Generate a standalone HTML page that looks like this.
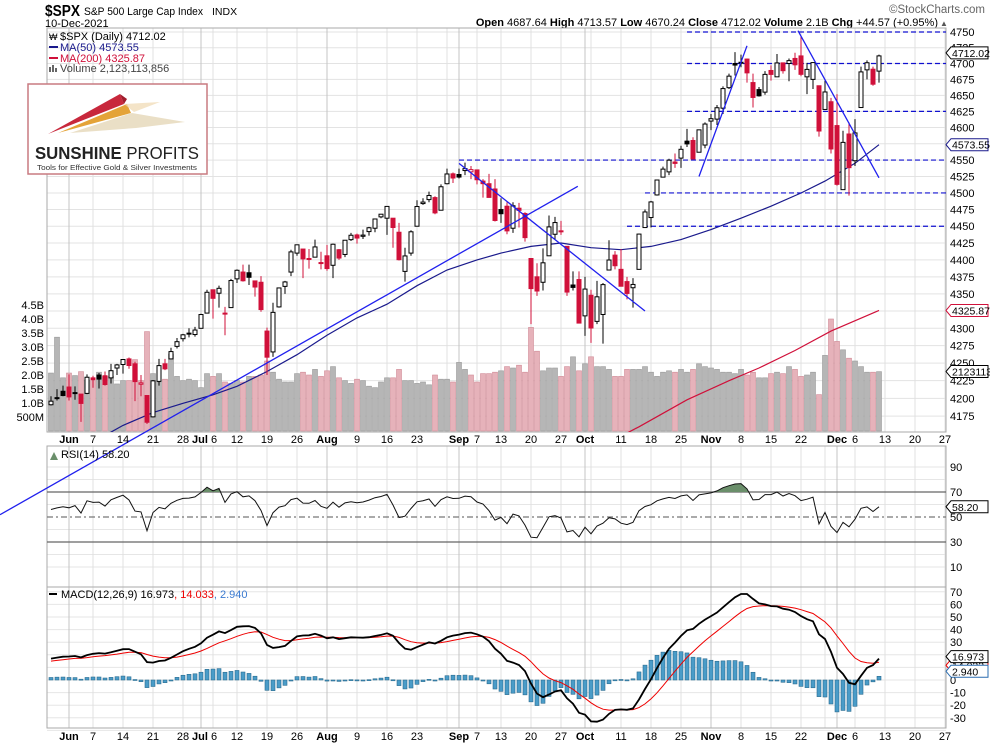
<!DOCTYPE html>
<html><head><meta charset="utf-8"><style>
html,body{margin:0;padding:0;background:#fff}
svg{display:block;font-family:"Liberation Sans",sans-serif}
</style></head><body>
<svg id="chart" width="990" height="744" viewBox="0 0 990 744" xmlns="http://www.w3.org/2000/svg">
<rect x="0" y="0" width="990" height="744" fill="#fff"/>
<g>
<text x="45" y="16" font-size="16" font-weight="bold" textLength="35" lengthAdjust="spacingAndGlyphs">$SPX</text>
<text x="84" y="15" font-size="11" textLength="119" lengthAdjust="spacingAndGlyphs">S&amp;P 500 Large Cap Index</text>
<text x="212" y="15" font-size="10.5">INDX</text>
<text x="45" y="27" font-size="11">10-Dec-2021</text>
<text x="985" y="13" font-size="11.5" fill="#666" text-anchor="end">©StockCharts.com</text>
<text x="938" y="26" font-size="11" text-anchor="end"><tspan font-weight="bold">Open</tspan> 4687.64  <tspan font-weight="bold">High</tspan> 4713.57  <tspan font-weight="bold">Low</tspan> 4670.24  <tspan font-weight="bold">Close</tspan> 4712.02  <tspan font-weight="bold">Volume</tspan> 2.1B  <tspan font-weight="bold">Chg</tspan> +44.57 (+0.95%)</text>
<text x="940" y="26" font-size="8" fill="#555">▲</text>
</g>
<g id="grid"></g>
<g id="plot"></g>
<g id="overlay"></g>
<g id="axes"></g>
</svg>
<script>
// ---------- DATA (index -3 = 26-May-2021 ... 135 = 10-Dec-2021) ----------
const opens = [4191,4201,4210,
4216,4207,4206,4207,4229,4233,4232,4229,4243,4248,4256,4249,4220,4204,4174,4224,4249,4256,4274,4285,4293,4291,
4300,4322,4356,4351,4322,4330,4372,4382,4381,4369,4367,4296,4266,4331,4361,4382,4410,4416,4402,4404,4396,
4406,4392,4415,4408,4430,4437,4435,4442,4447,4464,4462,4462,4441,4383,4410,4450,4484,4490,4493,4474,4514,4529,
4528,4534,4532,4535,4518,4514,4506,4475,4480,4447,4477,4469,4402,4375,4367,4406,4438,4443,4420,4363,4371,
4318,4348,4310,4320,4385,4407,4386,4368,4359,4386,4448,4463,4497,4524,4532,4547,4553,4579,4580,4562,4573,
4610,4613,4630,4662,4700,4702,4707,4670,4659,4655,4689,4679,4701,4700,4708,4712,4679,4675,4665,4628,4640,
4603,4505,4590,4549,4631,4690,4691,4688];
const highs = [4203,4213,4218,
4234,4217,4206,4234,4232,4236,4238,4249,4249,4255,4258,4252,4233,4204,4226,4256,4256,4272,4286,4292,4300,4302,
4321,4356,4356,4362,4331,4372,4386,4393,4393,4369,4376,4301,4337,4359,4369,4415,4422,4416,4416,4430,4412,
4422,4424,4416,4429,4440,4439,4445,4449,4461,4468,4480,4462,4455,4418,4444,4489,4492,4502,4495,4513,4537,4531,
4537,4546,4541,4535,4521,4529,4521,4492,4486,4486,4485,4471,4402,4395,4417,4466,4464,4458,4420,4383,4383,
4375,4356,4369,4366,4429,4413,4416,4375,4373,4439,4475,4488,4520,4540,4552,4560,4572,4598,4585,4597,4608,
4621,4635,4664,4684,4718,4714,4708,4684,4663,4688,4697,4715,4701,4708,4717,4744,4701,4702,4665,4673,4646,
4652,4595,4608,4613,4695,4705,4695,4714];
const lows = [4190,4197,4203,
4197,4198,4167,4206,4215,4214,4218,4221,4233,4235,4242,4196,4203,4164,4173,4218,4240,4256,4271,4281,4287,4288,
4300,4322,4314,4330,4290,4330,4366,4368,4363,4346,4324,4233,4259,4330,4350,4376,4406,4373,4387,4404,4386,
4384,4373,4400,4404,4428,4424,4431,4436,4441,4462,4437,4418,4399,4368,4406,4450,4482,4486,4468,4474,4513,4515,
4522,4527,4521,4513,4493,4493,4457,4455,4438,4440,4448,4427,4306,4347,4355,4406,4430,4437,4347,4355,4307,
4289,4279,4306,4278,4385,4386,4361,4342,4330,4386,4448,4448,4496,4524,4527,4538,4538,4570,4551,4562,4568,
4596,4604,4621,4660,4681,4694,4670,4631,4648,4651,4673,4679,4684,4672,4690,4680,4652,4660,4586,4628,4560,
4511,4505,4496,4541,4631,4675,4665,4670];
const closes = [4196,4201,4204,
4202.04,4208.12,4192.85,4229.89,4226.52,4227.26,4219.55,4239.18,4247.44,4255.15,4246.59,4223.70,4221.86,4166.45,4224.79,4246.44,4241.84,4266.49,4280.70,4290.61,4291.80,4297.50,
4319.94,4352.34,4343.54,4358.13,4320.82,4369.55,4384.63,4369.21,4374.30,4360.03,4327.16,4258.49,4323.06,4358.69,4367.48,4411.79,4422.30,4401.46,4400.64,4419.15,4395.26,
4387.16,4423.15,4402.66,4429.10,4436.52,4432.35,4436.75,4447.70,4460.83,4468.00,4479.71,4448.08,4400.27,4405.80,4441.67,4479.53,4486.23,4496.19,4470.00,4509.37,4528.79,4522.68,
4524.09,4536.95,4535.43,4520.03,4514.07,4493.28,4458.58,4468.73,4443.05,4480.70,4473.75,4432.99,4357.73,4354.19,4395.64,4448.98,4455.48,4443.11,4352.63,4359.46,4307.54,
4357.04,4300.46,4345.72,4363.55,4399.76,4391.34,4361.19,4350.65,4363.80,4438.26,4471.37,4486.46,4519.63,4536.19,4549.78,4544.90,4566.48,4574.79,4551.68,4596.42,4605.38,
4613.67,4630.65,4660.57,4680.06,4697.53,4701.70,4685.25,4646.71,4649.27,4682.85,4682.80,4700.90,4688.67,4704.54,4697.96,4682.94,4690.70,4701.46,4594.62,4655.27,4567.00,
4513.04,4577.10,4538.43,4591.67,4686.75,4701.21,4667.45,4712.02];
const volumesB = [2.07,3.35,1.9,2.07,1.98,2.12,1.82,1.8,2.1,1.95,1.95,1.68,1.8,
1.8,2.55,1.8,3.55,2.05,1.75,1.85,2.75,1.95,1.8,1.85,
1.8,1.55,2.05,1.95,2.05,1.75,1.7,1.8,1.75,1.95,
1.95,2.0,2.5,2.1,1.85,1.75,1.75,2.05,2.1,2.0,
2.2,1.95,2.15,2.3,1.9,1.8,1.7,1.85,1.8,1.6,
1.55,1.75,1.9,1.9,2.2,1.8,1.8,1.7,1.75,1.65,
2.0,1.85,1.85,1.75,2.45,2.2,2.0,1.75,2.05,2.05,
2.1,2.15,2.3,2.25,2.35,2.1,3.7,2.85,2.15,2.25,
2.25,1.95,2.3,2.65,2.15,2.4,2.65,2.3,2.3,2.2,
1.95,1.95,2.2,2.2,2.2,2.3,2.1,1.95,2.1,2.15,
2.1,2.2,2.1,2.2,2.4,2.3,2.25,2.2,2.1,2.1,
2.05,2.2,2.0,2.1,1.9,1.9,2.05,2.1,2.05,2.3,
2.2,1.95,2.0,2.1,1.3,2.7,4.0,3.2,2.9,2.6,
2.5,2.3,2.1,2.1,2.12];
const ma50Idx = [6,9,14,19,24,28,33,38,43,48,53,58,63,68,72,77,82,87,92,97,102,107,112,117,122,126,131,135];
const ma50Val = [4148,4162,4180,4193,4205,4217,4238,4262,4290,4315,4335,4362,4385,4400,4410,4420,4425,4418,4415,4420,4430,4445,4462,4480,4500,4518,4545,4573.55];
const ma200Idx = [84,88,95,103,110,115,121,127,135];
const ma200Val = [4115,4130,4160,4198,4225,4243,4268,4296,4325.87];
const priceTicks = [4750,4725,4700,4675,4650,4625,4600,4575,4550,4525,4500,4475,4450,4425,4400,4375,4350,4325,4300,4275,4250,4225,4200,4175];
const volTicks = [0.5,1.0,1.5,2.0,2.5,3.0,3.5,4.0,4.5];
const volTickLabels = ["500M","1.0B","1.5B","2.0B","2.5B","3.0B","3.5B","4.0B","4.5B"];
const rsiTicks = [90,70,50,30,10];
const macdTicks = [70,60,50,40,30,20,10,0,-10,-20,-30];
const monthIdx = [0,22,43,65,86,107,128];
const monthLabels = ["Jun","Jul","Aug","Sep","Oct","Nov","Dec"];
const weekIdx = [4,9,14,19,24,28,33,38,48,53,58,68,72,77,82,92,97,102,112,117,122,131,136,141,146];
const weekLabels = ["7","14","21","28","6","12","19","26","9","16","23","7","13","20","27","11","18","25","8","15","22","6","13","20","27"];
const resistLevels = [4750,4700,4625,4550,4500,4450];
const resistStartIdx = [103,103,103,65,96,93];
const trendA = [-11.5, 4039, 84.8, 4510];
const trendB = [65, 4545, 96, 4325];
const trendC = [105, 4525, 113, 4728];
const trendD = [121.5, 4752, 135, 4523];

// ---------- SCALES ----------
const X0=69, DX=6, PL=47, PR=946;
const MT=28, MB=432, RT=446, RB=587, CT=587, CB=728;
const xS = i => X0 + DX*i;
const yP = p => 32 + Math.log(4750/p)*2977;
const yV = v => 431 - 28*v;
const yR = r => 517 - (r-50)*1.25;
const yM = m => 680 - m*1.26;
const NS="http://www.w3.org/2000/svg";
function mk(tag, attrs, parent){const e=document.createElementNS(NS,tag);for(const k in attrs)e.setAttribute(k,attrs[k]);parent.appendChild(e);return e;}
const grid=document.getElementById('grid'), plot=document.getElementById('plot'), ov=document.getElementById('overlay'), axes=document.getElementById('axes');
const idxOf = k => k-3;

const defs=mk('defs',{},document.getElementById('chart'));
const cpM=mk('clipPath',{id:'cm'},defs); mk('rect',{x:PL,y:MT,width:PR-PL,height:MB-MT},cpM);
const cpR=mk('clipPath',{id:'cr'},defs); mk('rect',{x:PL,y:RT,width:PR-PL,height:RB-RT},cpR);
const cpC=mk('clipPath',{id:'cc'},defs); mk('rect',{x:PL,y:CT,width:PR-PL,height:CB-CT},cpC);
const cpRsi70=mk('clipPath',{id:'c70'},defs); mk('rect',{x:PL,y:RT,width:PR-PL,height:yR(70)-RT},cpRsi70);

// ---------- GRID ----------
function hline(y,x1,x2,col,w,dash){const l=mk('line',{x1:x1,y1:y,x2:x2,y2:y,stroke:col,'stroke-width':w||1},grid);if(dash)l.setAttribute('stroke-dasharray',dash);return l;}
priceTicks.forEach(p=>{const l=hline(yP(p),PL,PR,'#e3e3e3');

});
for(let r=10;r<=90;r+=10){if(r!==70&&r!==30&&r!==50){const l=hline(yR(r),PL,PR,'#e6e6e6');

}}
for(let m=-40;m<=70;m+=10){const l=hline(yM(m),PL,PR,'#e6e6e6');

}
function vgrid(i,col){[[MT,MB],[RT,RB],[CT,CB]].forEach(r=>{const l=mk('line',{x1:xS(i),y1:r[0],x2:xS(i),y2:r[1],stroke:col,'stroke-width':1},grid);

});}
weekIdx.forEach(i=>vgrid(i,'#e0e0e0'));
[63,87,107,126].forEach(i=>vgrid(i,'#e0e0e0'));
monthIdx.forEach(i=>vgrid(i,'#c4c4c4'));
[[MT,MB],[RT,RB],[CT,CB]].forEach((r,k)=>{const f=mk('rect',{x:PL,y:r[0],width:PR-PL,height:r[1]-r[0],fill:'none',stroke:'#aaa','stroke-width':1},grid);

});
[[70,'#666',null],[30,'#666',null],[50,'#777','6,3,2,3']].forEach(a=>{const l=hline(yR(a[0]),PL,PR,a[1],1.2,a[2]);

});

// ---------- VOLUME ----------
const gM=mk('g',{'clip-path':'url(#cm)'},plot);
volumesB.forEach((v,k)=>{const i=idxOf(k);const down=k>0&&closes[k]<closes[k-1];
const r=mk('rect',{x:xS(i)-2.5,y:yV(v),width:5,height:431-yV(v),fill:down?'#e6b2ba':'#b6b6b6',stroke:down?'#d08a96':'#999','stroke-width':0.6},gM);

});

// ---------- MOVING AVERAGES ----------
function polyIdx(ix,vals,col,w,parent,name){const pts=ix.map((i,k)=>xS(i)+','+yP(vals[k]).toFixed(1)).join(' ');
const p=mk('polyline',{points:pts,fill:'none',stroke:col,'stroke-width':w},parent);

}
polyIdx(ma50Idx,ma50Val,'#1a1a8c',1.2,gM,'ma50-line');
polyIdx(ma200Idx,ma200Val,'#d0103a',1.2,gM,'ma200-line');

// ---------- RESISTANCE LINES ----------
resistLevels.forEach((p,k)=>{const l=mk('line',{x1:xS(resistStartIdx[k]),y1:yP(p),x2:PR,y2:yP(p),stroke:'#1010d0','stroke-width':1.2,'stroke-dasharray':'5,3'},gM);

});

// ---------- CANDLES ----------
closes.forEach((c,k)=>{const i=idxOf(k),o=opens[k],h=highs[k],l=lows[k];
const up=k===0||c>=closes[k-1];const col=up?'#000':'#d0103a';
const g=mk('g',{},gM);


mk('line',{x1:xS(i),y1:yP(Math.max(h,o,c)),x2:xS(i),y2:yP(Math.min(l,o,c)),stroke:col,'stroke-width':1},g);
const top=yP(Math.max(o,c)),bot=yP(Math.min(o,c));
mk('rect',{x:xS(i)-2,y:top,width:4,height:Math.max(1,bot-top),fill:c<o?col:'#fff',stroke:col,'stroke-width':1},g);});

// ---------- TRENDLINES ----------
function tline(t,clip,name){const l=mk('line',{x1:xS(t[0]),y1:yP(t[1]),x2:xS(t[2]),y2:yP(t[3]),stroke:'#2020ee','stroke-width':1.3},clip?gM:ov);

}
tline(trendA,false,'long-uptrend-line');
tline(trendB,true,'september-downtrend-line');
tline(trendC,true,'october-uptrend-line');
tline(trendD,true,'november-downtrend-line');

// ---------- RSI ----------
const rsi=[];{let ag=7,al=5.5;for(let k=0;k<closes.length;k++){if(k>0){const d=closes[k]-closes[k-1];ag=(ag*13+Math.max(d,0))/14;al=(al*13+Math.max(-d,0))/14;}rsi.push(100-100/(1+ag/al));}}
const gR=mk('g',{'clip-path':'url(#cr)'},plot);
const rpts=rsi.map((r,k)=>xS(idxOf(k))+','+yR(r).toFixed(1));
const fillG=mk('g',{'clip-path':'url(#c70)'},gR);
const rf=mk('polygon',{points:xS(-3)+','+yR(70)+' '+rpts.join(' ')+' '+xS(135)+','+yR(70),fill:'#6b8f6b'},fillG);


const rl=mk('polyline',{points:rpts.join(' '),fill:'none',stroke:'#111','stroke-width':1},gR);



// ---------- MACD ----------
const macd=[],sig=[],hist=[];{let e12=4175,e26=4158,s=15;const a12=2/13,a26=2/27,a9=0.2;
closes.forEach((c,k)=>{if(k>0){e12+=a12*(c-e12);e26+=a26*(c-e26);}const m=e12-e26;if(k>0)s+=a9*(m-s);macd.push(m);sig.push(s);hist.push(m-s);});}
const gC=mk('g',{'clip-path':'url(#cc)'},plot);
hist.forEach((h,k)=>{const i=idxOf(k);const y0=yM(0),y1=yM(h);
const r=mk('rect',{x:xS(i)-2,y:Math.min(y0,y1),width:4,height:Math.max(1,Math.abs(y1-y0)),fill:'#4a9cc8',stroke:'#2a6c90','stroke-width':0.6},gC);

});
const sl=mk('polyline',{points:sig.map((v,k)=>xS(idxOf(k))+','+yM(v).toFixed(1)).join(' '),fill:'none',stroke:'#e00','stroke-width':1},gC);


const ml=mk('polyline',{points:macd.map((v,k)=>xS(idxOf(k))+','+yM(v).toFixed(1)).join(' '),fill:'none',stroke:'#000','stroke-width':1.8},gC);



// ---------- AXES / LABELS ----------
function txt(x,y,s,attrs,parent){const t=mk('text',Object.assign({x:x,y:y,'font-size':11},attrs||{}),parent||axes);t.textContent=s;return t;}
priceTicks.forEach(p=>{const t=txt(950,yP(p)+4,String(p));

});
volTicks.forEach((v,k)=>{const t=txt(44,yV(v)+4,volTickLabels[k],{'text-anchor':'end'});

});
rsiTicks.forEach(r=>{const t=txt(950,yR(r)+4,String(r));

});
macdTicks.forEach(m=>{const t=txt(950,yM(m)+4,String(m));

});
[443,740].forEach(yb=>{
monthIdx.forEach((i,k)=>{const t=txt(xS(i)-(k===1?1:0),yb,monthLabels[k],{'font-weight':'bold','text-anchor':'middle'});

});
weekIdx.forEach((i,k)=>{const t=txt(xS(i)+(k===4?1:0),yb,weekLabels[k],{'text-anchor':'middle'});

});});

function tag(y,s,col,name){const g=mk('g',{},axes);


mk('path',{d:`M946,${y} L951,${y-6} L988,${y-6} L988,${y+6} L951,${y+6} Z`,fill:'#fff',stroke:col,'stroke-width':1},g);
txt(952,y+4,s,{'font-size':10.5},g);}
tag(yP(4712.02)-3,'4712.02','#000','price-tag');
tag(yP(4573.55),'4573.55','#1a1a8c','ma50-tag');
tag(yP(4325.87),'4325.87','#d0103a','ma200-tag');
tag(yV(2.123),'2123113','#000','volume-tag');
tag(yR(rsi[rsi.length-1]),rsi[rsi.length-1].toFixed(2),'#000','rsi-tag');
tag(yM(sig[sig.length-1])+3,sig[sig.length-1].toFixed(3),'#e00','macd-signal-tag');
tag(yM(macd[macd.length-1])-2,macd[macd.length-1].toFixed(3),'#000','macd-tag');
tag(yM(hist[hist.length-1])-5,hist[hist.length-1].toFixed(3),'#2a6cb0','macd-hist-tag');
</script>
<svg style="position:absolute;left:0;top:0" width="990" height="744">
<g font-family="Liberation Sans, sans-serif" font-size="11">
<text x="60" y="40">$SPX (Daily) 4712.02</text>
<text x="49" y="40" font-size="9">₩</text>
<line x1="49" y1="47" x2="58" y2="47" stroke="#1a1a8c" stroke-width="2"/>
<text x="60" y="51" fill="#1a1a8c">MA(50) 4573.55</text>
<line x1="49" y1="58" x2="58" y2="58" stroke="#d0103a" stroke-width="2"/>
<text x="60" y="62" fill="#d0103a">MA(200) 4325.87</text>
<rect x="49" y="67" width="2" height="5" fill="#666"/><rect x="52" y="65" width="2" height="7" fill="#666"/><rect x="55" y="68" width="2" height="4" fill="#666"/>
<text x="60" y="72" fill="#444">Volume 2,123,113,856</text>
<path d="M50,460 L54,452 L58,460 Z" fill="#6b8f6b"/>
<text x="61" y="458">RSI(14) 58.20</text>
<line x1="49" y1="594" x2="57" y2="594" stroke="#000" stroke-width="2"/>
<text x="61" y="598">MACD(12,26,9) 16.973<tspan fill="#e00">, 14.033</tspan><tspan fill="#3a7ad0">, 2.940</tspan></text>
</g>
<g>
<rect x="28" y="84" width="179" height="90" fill="#fff" stroke="#c97a80" stroke-width="1.5"/>
<polygon points="48,134 120,94 124,104" fill="#c8283c"/>
<polygon points="120,94 127,99 124,104" fill="#a01c2c"/>
<polygon points="58,133 127,104 131,113" fill="#e4a338"/>
<polygon points="70,133 132,113 185,122 136,128" fill="#e8dcc0" opacity="0.9"/>
<polygon points="124,104 160,102 134,112" fill="#f0d8b0" opacity="0.7"/>
<text x="35" y="159" font-family="Liberation Sans, sans-serif" font-size="17.5" font-weight="bold" fill="#222" textLength="164" lengthAdjust="spacingAndGlyphs">SUNSHINE <tspan font-weight="normal">PROFITS</tspan></text>
<text x="37" y="170" font-family="Liberation Sans, sans-serif" font-size="7.6" fill="#333" textLength="160" lengthAdjust="spacingAndGlyphs">Tools for Effective Gold &amp; Silver Investments</text>
</g>
</svg>
</body></html>
